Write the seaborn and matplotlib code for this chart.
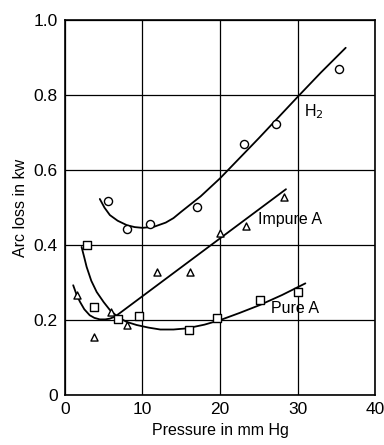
import pandas as pd
import seaborn as sns
from matplotlib import pyplot as plt

# measured points
h2_x = [5.5, 8.0, 11.0, 17.0, 23.1, 27.2, 35.3]
h2_y = [0.517, 0.442, 0.456, 0.502, 0.669, 0.723, 0.869]
imp_x = [1.6, 3.7, 5.9, 8.0, 11.9, 16.1, 20.0, 23.4, 28.3]
imp_y = [0.267, 0.156, 0.222, 0.187, 0.329, 0.328, 0.431, 0.450, 0.527]
pure_x = [2.9, 3.8, 6.9, 9.5, 16.0, 19.6, 25.1, 30.0]
pure_y = [0.400, 0.234, 0.202, 0.211, 0.173, 0.207, 0.255, 0.276]

# hand-drawn curves
h2_cx = [4.5, 5.1, 5.8, 6.8, 8.0, 9.0, 10.0, 11.5, 13.0, 14.0, 15.0, 17.5,
         20.0, 25.0, 30.0, 33.0, 36.2]
h2_cy = [0.523, 0.500, 0.480, 0.465, 0.453, 0.448, 0.446, 0.449, 0.460, 0.472,
         0.489, 0.530, 0.578, 0.685, 0.795, 0.860, 0.926]
imp_cx = [1.07, 1.5, 1.94, 2.5, 3.2, 3.8, 4.5, 5.2, 5.8, 6.4, 6.9, 28.5]
imp_cy = [0.293, 0.268, 0.249, 0.229, 0.213, 0.206, 0.202, 0.202, 0.204, 0.209,
          0.216, 0.549]
pure_cx = [2.15, 2.5, 2.8, 3.4, 4.1, 5.0, 5.8, 6.9, 8.0, 9.25, 10.8, 12.3,
           14.0, 15.7, 18.0, 20.0, 22.5, 25.1, 28.0, 31.0]
pure_cy = [0.395, 0.367, 0.342, 0.305, 0.275, 0.248, 0.227, 0.207, 0.195, 0.187,
           0.180, 0.175, 0.175, 0.178, 0.188, 0.200, 0.219, 0.240, 0.267, 0.298]

sns.set_style("white", {"text.color": "black", "axes.labelcolor": "black",
                        "xtick.color": "black", "ytick.color": "black"})
plt.rcParams['font.family'] = ['Liberation Sans', 'DejaVu Sans']

fig = plt.figure(figsize=(3.84, 4.45), dpi=100)
ax = fig.add_axes([0.169, 0.112, 0.808, 0.843])

for cx, cy in [(h2_cx, h2_cy), (imp_cx, imp_cy), (pure_cx, pure_cy)]:
    sns.lineplot(x=cx, y=cy, sort=False, color="black", lw=1.3, ax=ax)

sns.scatterplot(x=h2_x, y=h2_y, marker="o", s=34, facecolor="white",
                edgecolor="black", linewidth=1.0, ax=ax, zorder=3)
sns.scatterplot(x=imp_x, y=imp_y, marker="^", s=26, facecolor="white",
                edgecolor="black", linewidth=1.0, ax=ax, zorder=3)
sns.scatterplot(x=pure_x, y=pure_y, marker="s", s=38, facecolor="white",
                edgecolor="black", linewidth=1.0, ax=ax, zorder=3)

ax.text(30.8, 0.755, "H$_2$", fontsize=11.5, va="center")
ax.text(24.9, 0.469, "Impure A", fontsize=11.5, va="center")
ax.text(26.6, 0.232, "Pure A", fontsize=11.5, va="center")

ax.set_xlim(0, 40)
ax.set_ylim(0, 1.0)
ax.set_xticks([0, 10, 20, 30, 40])
ax.set_yticks([0, 0.2, 0.4, 0.6, 0.8, 1.0])
ax.set_yticklabels(["0", "0.2", "0.4", "0.6", "0.8", "1.0"])
ax.tick_params(length=0, labelsize=12.5, pad=5, colors="black")
ax.grid(True, color="black", lw=0.9)
for s in ax.spines.values():
    s.set_color("black")
    s.set_linewidth(1.2)
ax.set_xlabel("Pressure in mm Hg", fontsize=11.5, labelpad=4, color="black")
ax.set_ylabel("Arc loss in kw", fontsize=11.5, labelpad=4, color="black")

fig.savefig("out.png", dpi=100)
